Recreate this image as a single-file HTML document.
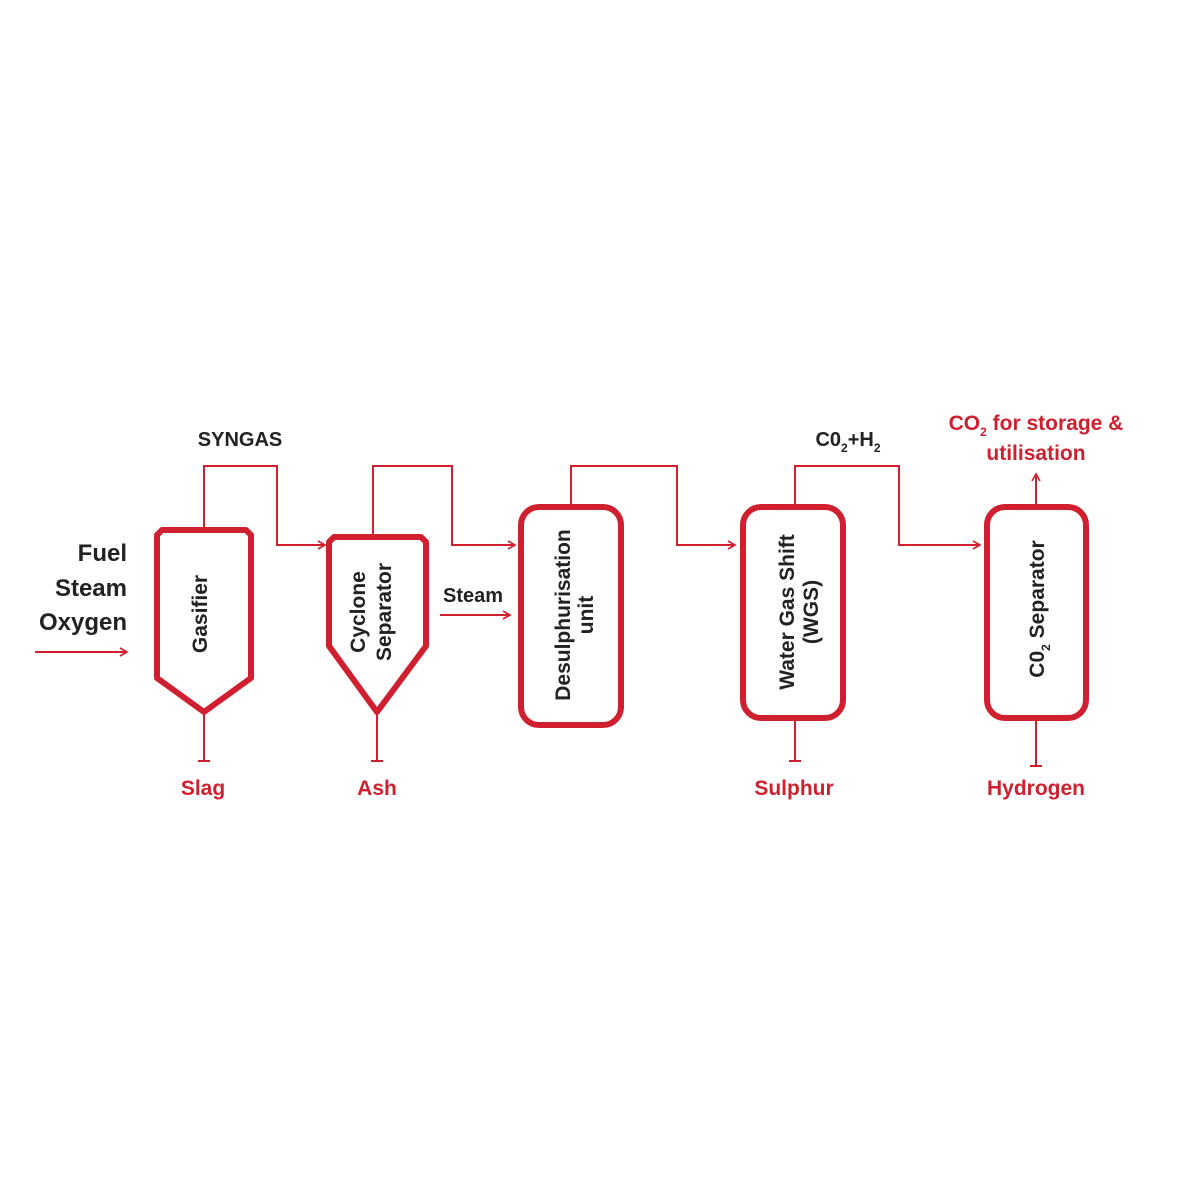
<!DOCTYPE html>
<html><head><meta charset="utf-8"><style>
html,body{margin:0;padding:0;background:#fff;}
svg{display:block;}
text{font-family:"Liberation Sans",sans-serif;font-weight:bold;}
</style></head><body>
<svg width="1200" height="1200" viewBox="0 0 1200 1200" xmlns="http://www.w3.org/2000/svg">
<defs>
<marker id="ar" markerWidth="10" markerHeight="10" refX="8" refY="5" orient="auto" markerUnits="userSpaceOnUse">
<path d="M1,1 L8,5 L1,9" fill="none" stroke="#d01f2f" stroke-width="1.6"/>
</marker>
</defs>
<rect width="1200" height="1200" fill="#fff"/>
<g fill="none" stroke="#d01f2f" stroke-width="2">
<line x1="35" y1="652" x2="127" y2="652" marker-end="url(#ar)"/>
<polyline points="204,530 204,466 277,466 277,545 325,545" marker-end="url(#ar)"/>
<polyline points="373,536 373,466 452,466 452,545 515,545" marker-end="url(#ar)"/>
<line x1="440" y1="615" x2="510" y2="615" marker-end="url(#ar)"/>
<polyline points="571,507 571,466 677,466 677,545 735,545" marker-end="url(#ar)"/>
<polyline points="795,507 795,466 899,466 899,545 980,545" marker-end="url(#ar)"/>
<line x1="1036" y1="507" x2="1036" y2="474" marker-end="url(#ar)"/>
<line x1="204" y1="712" x2="204" y2="761"/><line x1="198" y1="761" x2="210" y2="761"/>
<line x1="377" y1="712" x2="377" y2="761"/><line x1="371" y1="761" x2="383" y2="761"/>
<line x1="795" y1="718" x2="795" y2="761"/><line x1="789" y1="761" x2="801" y2="761"/>
<line x1="1036" y1="718" x2="1036" y2="766"/><line x1="1030" y1="766" x2="1042" y2="766"/>
</g>
<g fill="#fff" stroke="#d01f2f" stroke-width="6" stroke-linejoin="round">
<path d="M162,530 L246,530 L251,535 L251,678 L204,712 L157,678 L157,535 Z"/>
<path d="M334,537 L421,537 L426,542 L426,646 L377,712 L329,646 L329,542 Z"/>
<rect x="521" y="507" width="100" height="218" rx="18"/>
<rect x="743" y="507" width="100" height="211" rx="18"/>
<rect x="987" y="507" width="99" height="211" rx="18"/>
</g>
<g fill="#222" font-size="24" text-anchor="end">
<text x="127" y="561">Fuel</text>
<text x="127" y="596">Steam</text>
<text x="127" y="630">Oxygen</text>
</g>
<g fill="#222" font-size="20" text-anchor="middle">
<text x="240" y="446">SYNGAS</text>
<text x="473" y="602">Steam</text>
<text x="848" y="446">C0<tspan font-size="12" dy="6">2</tspan><tspan dy="-6">+H</tspan><tspan font-size="12" dy="6">2</tspan></text>
</g>
<g fill="#222" font-size="21" text-anchor="middle">
<text transform="translate(207,614) rotate(-90)">Gasifier</text>
<text transform="translate(365,612) rotate(-90)">Cyclone</text>
<text transform="translate(391,612) rotate(-90)">Separator</text>
<text transform="translate(570,615) rotate(-90)">Desulphurisation</text>
<text transform="translate(593,615) rotate(-90)">unit</text>
<text transform="translate(794,612) rotate(-90)">Water Gas Shift</text>
<text transform="translate(818,612) rotate(-90)">(WGS)</text>
<text transform="translate(1044,609) rotate(-90)">C0<tspan font-size="12" dy="6">2</tspan><tspan dy="-6"> Separator</tspan></text>
</g>
<g fill="#d01f2f" font-size="21" text-anchor="middle">
<text x="203" y="795">Slag</text>
<text x="377" y="795">Ash</text>
<text x="794" y="795">Sulphur</text>
<text x="1036" y="795">Hydrogen</text>
<text x="1036" y="430">CO<tspan font-size="12" dy="6">2</tspan><tspan dy="-6"> for storage &amp;</tspan></text>
<text x="1036" y="460">utilisation</text>
</g>
</svg>
</body></html>
